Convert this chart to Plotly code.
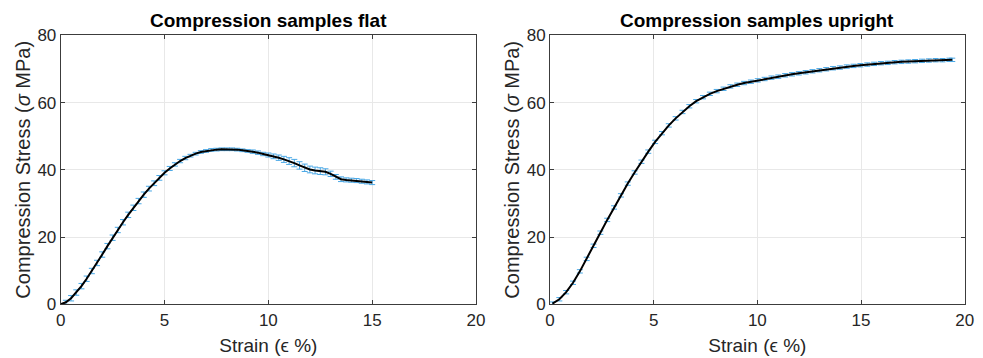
import plotly.graph_objects as go

# ---------------- data ----------------
flat_strain = [0.0, 0.25, 0.5, 0.75, 1.0, 1.25, 1.5, 1.75, 2.0, 2.25, 2.5, 2.75, 3.0, 3.25, 3.5, 3.75,
               4.0, 4.25, 4.5, 4.75, 5.0, 5.25, 5.5, 5.75, 6.0, 6.25, 6.5, 6.75, 7.0, 7.25, 7.5, 7.75,
               8.0, 8.25, 8.5, 8.75, 9.0, 9.25, 9.5, 9.75, 10.0, 10.25, 10.5, 10.75, 11.0, 11.25, 11.5,
               11.75, 12.0, 12.25, 12.5, 12.75, 13.0, 13.25, 13.5, 13.75, 14.0, 14.25, 14.5, 14.75, 15.0]
flat_stress = [0.0, 0.6, 1.8, 3.5, 5.4, 7.6, 9.9, 12.3, 14.8, 17.3, 19.8, 22.1, 24.4, 26.6, 28.7, 30.7,
               32.6, 34.4, 36.0, 37.6, 39.1, 40.4, 41.6, 42.6, 43.5, 44.2, 44.8, 45.3, 45.6, 45.9, 46.0, 46.1,
               46.1, 46.1, 46.0, 45.8, 45.6, 45.4, 45.1, 44.7, 44.4, 44.0, 43.6, 43.1, 42.6, 42.0, 41.3,
               40.6, 40.1, 39.8, 39.6, 39.4, 38.8, 37.9, 37.2, 37.0, 36.9, 36.8, 36.6, 36.4, 36.2]
flat_err = [0.1, 0.6, 0.8, 0.8, 0.8, 0.8, 0.8, 0.8, 0.8, 0.8, 0.8, 0.8, 0.8, 0.8, 0.8, 0.8,
            0.8, 0.7, 0.7, 0.7, 0.6, 0.6, 0.5, 0.5, 0.5, 0.4, 0.4, 0.4, 0.4, 0.4, 0.4, 0.4,
            0.4, 0.4, 0.4, 0.4, 0.4, 0.5, 0.5, 0.5, 0.6, 0.7, 0.8, 0.9, 1.0, 1.1, 1.1,
            1.1, 1.0, 1.0, 1.0, 0.9, 0.8, 0.7, 0.7, 0.6, 0.6, 0.6, 0.6, 0.6, 0.6]

upright_strain = [0.12, 0.45, 0.78, 1.11, 1.44, 1.77, 2.10, 2.43, 2.76, 3.09, 3.42, 3.75, 4.08, 4.41,
                  4.74, 5.07, 5.40, 5.73, 6.06, 6.39, 6.72, 7.05, 7.38, 7.71, 8.04, 8.37, 8.70, 9.03,
                  9.36, 9.69, 10.02, 10.35, 10.68, 11.01, 11.34, 11.67, 12.00, 12.33, 12.66, 12.99,
                  13.32, 13.65, 13.98, 14.31, 14.64, 14.97, 15.30, 15.63, 15.96, 16.29, 16.62, 16.95,
                  17.28, 17.61, 17.94, 18.27, 18.60, 18.93, 19.26, 19.40]
upright_stress = [0.2, 1.5, 3.6, 6.4, 9.8, 13.5, 17.4, 21.3, 25.1, 28.8, 32.4, 35.9, 39.2, 42.4,
                  45.4, 48.3, 50.9, 53.2, 55.3, 57.2, 58.9, 60.4, 61.6, 62.6, 63.4, 64.1, 64.8, 65.3,
                  65.8, 66.2, 66.6, 67.0, 67.4, 67.7, 68.1, 68.4, 68.7, 69.0, 69.3, 69.6,
                  69.9, 70.2, 70.4, 70.7, 70.9, 71.1, 71.3, 71.5, 71.7, 71.8, 72.0, 72.1,
                  72.2, 72.3, 72.4, 72.5, 72.6, 72.6, 72.7, 72.7]
upright_err = [0.5] * len(upright_stress)

x_ticks = [0, 5, 10, 15, 20]
y_ticks = [0, 20, 40, 60, 80]
titles = ["Compression samples flat", "Compression samples upright"]
x_label = "Strain (ϵ %)"
y_label = "Compression Stress (<i>σ</i> MPa)"

# ---------------- figure ----------------
W, H = 983, 358
FONT = "Liberation Sans, Arial, Helvetica, sans-serif"
ERR_COL = "#4aa8e6"
AX_COL = "#3c3c3c"

fig = go.Figure()

series = [(flat_strain, flat_stress, flat_err, "x", "y"),
          (upright_strain, upright_stress, upright_err, "x2", "y2")]
for sx, sy, se, xa, ya in series:
    fig.add_trace(go.Scatter(
        x=sx, y=sy, mode="markers", marker=dict(size=1, color=ERR_COL, opacity=0),
        error_y=dict(type="data", array=se, visible=True, color=ERR_COL, thickness=1, width=3),
        xaxis=xa, yaxis=ya, showlegend=False, hoverinfo="skip"))
    fig.add_trace(go.Scatter(
        x=sx, y=sy, mode="lines", line=dict(color="black", width=2),
        xaxis=xa, yaxis=ya, showlegend=False))

# axes pixel geometry
x_doms = [(60.7 / W, 476.0 / W), (550.0 / W, 964.7 / W)]
y_dom = (1 - 304.3 / H, 1 - 35.3 / H)

def xaxis_cfg(dom, anchor):
    return dict(domain=list(dom), anchor=anchor, range=[0, 20], tickvals=x_ticks,
                showgrid=True, gridcolor="#e8e8e8", gridwidth=1, zeroline=False,
                showline=True, linecolor=AX_COL, linewidth=1, mirror="ticks",
                ticks="inside", ticklen=4, tickcolor=AX_COL, automargin=False,
                tickfont=dict(family=FONT, size=17, color="#262626"),
                title=dict(text=x_label, font=dict(family=FONT, size=19, color="#262626"), standoff=9))

def yaxis_cfg(anchor):
    return dict(domain=list(y_dom), anchor=anchor, range=[0, 80], tickvals=y_ticks,
                showgrid=True, gridcolor="#e8e8e8", gridwidth=1, zeroline=False,
                showline=True, linecolor=AX_COL, linewidth=1, mirror="ticks",
                ticks="inside", ticklen=4, tickcolor=AX_COL, automargin=False,
                tickfont=dict(family=FONT, size=17, color="#262626"),
                title=dict(text=y_label, font=dict(family=FONT, size=20, color="#262626"), standoff=1))

annotations = []
for i, t in enumerate(titles):
    d = x_doms[i]
    annotations.append(dict(text="<b>" + t + "</b>", x=(d[0] + d[1]) / 2, y=1 - 21 / H,
                            xref="paper", yref="paper", xanchor="center", yanchor="middle",
                            showarrow=False, font=dict(family=FONT, size=19, color="black")))

fig.update_layout(
    width=W, height=H, margin=dict(l=0, r=0, t=0, b=0, autoexpand=False),
    paper_bgcolor="white", plot_bgcolor="white",
    xaxis=xaxis_cfg(x_doms[0], "y"), yaxis=yaxis_cfg("x"),
    xaxis2=xaxis_cfg(x_doms[1], "y2"), yaxis2=yaxis_cfg("x2"),
    annotations=annotations,
)

fig.write_html("out.html")
